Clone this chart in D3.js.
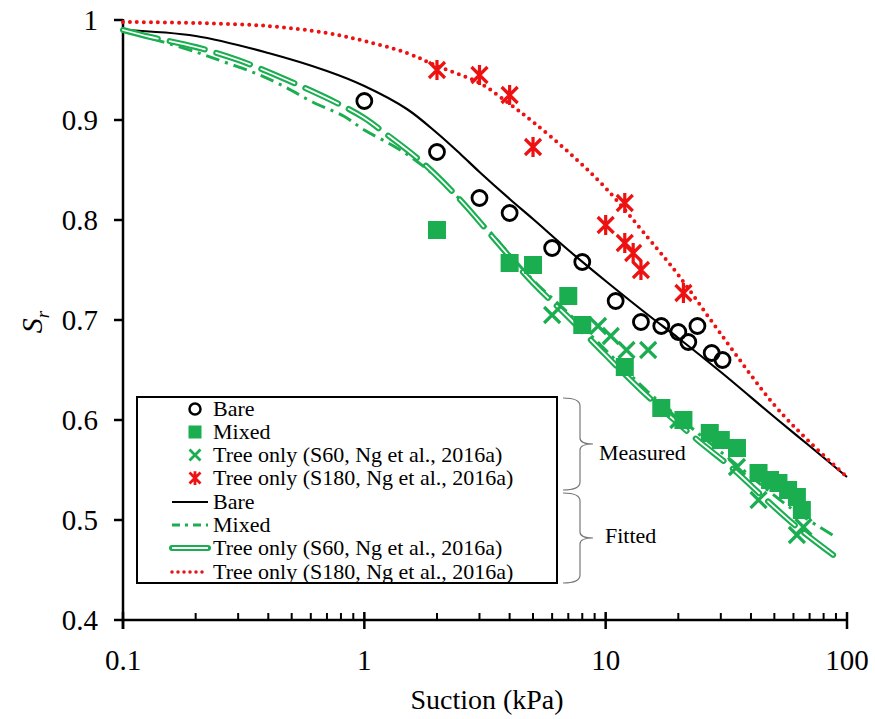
<!DOCTYPE html>
<html><head><meta charset="utf-8">
<script src="https://cdn.jsdelivr.net/npm/d3@7"></script>
<style>body{margin:0;background:#fff}svg{display:block}</style>
</head><body><svg id="c" width="875" height="719" font-family="'Liberation Serif', 'Times New Roman', 'DejaVu Serif', serif"></svg>
<script>
// ---- data ----
const bareX = [1,2,3,4,6,8,11,14,17,20,22,24,27.5,30.5];
const bareY = [0.919,0.868,0.822,0.807,0.772,0.758,0.719,0.698,0.694,0.688,0.678,0.694,0.667,0.660];
const mixedX = [2,4,5,7,8,12,17,21,27,30,35,43,48,52,57,62,65];
const mixedY = [0.79,0.757,0.755,0.724,0.695,0.653,0.612,0.6,0.587,0.58,0.572,0.547,0.54,0.537,0.53,0.523,0.51];
const s60X = [6,9.3,10.5,12.2,15,20,35,43,62,66];
const s60Y = [0.705,0.694,0.684,0.67,0.67,0.6,0.553,0.52,0.485,0.493];
const s180X = [2,3,4,5,10,12,12,13,14,21];
const s180Y = [0.95,0.945,0.925,0.873,0.795,0.817,0.777,0.767,0.75,0.727];

const fitBareX = [0.1,0.2,0.4,0.7,1,1.5,2,2.5,3,4,5,7,10,15,20,30,50,70,100];
const fitBareY = [0.99,0.984,0.967,0.949,0.934,0.911,0.887,0.866,0.848,0.821,0.801,0.770,0.739,0.705,0.682,0.648,0.603,0.574,0.543];
const fitMixedX = [0.1,0.2,0.27,0.36,0.47,0.61,0.82,1,1.3,1.6,2.1,3,5,7,10,15,20,33,60,90];
const fitMixedY = [0.99,0.968,0.957,0.946,0.933,0.918,0.904,0.890,0.875,0.861,0.838,0.8,0.74,0.707,0.67,0.628,0.603,0.56,0.51,0.483];
const fitS60X = [0.1,0.13,0.2,0.3,0.5,0.8,1,1.2,1.75,2.5,3.4,5,7,10,14,24,33,45,62,90];
const fitS60Y = [0.99,0.983,0.973,0.96,0.938,0.915,0.902,0.888,0.857,0.82,0.783,0.737,0.703,0.665,0.63,0.58,0.553,0.523,0.493,0.463];
const fitS180X = [0.1,0.2,0.4,0.7,1,1.5,2,3,4,5,7,10,15,20,30,50,70,100];
const fitS180Y = [0.998,0.997,0.994,0.987,0.979,0.967,0.954,0.937,0.916,0.898,0.868,0.832,0.782,0.745,0.686,0.615,0.578,0.543];

const xMajor = [0.1,1,10,100];
const xMajorLabels = ["0.1","1","10","100"];
const yTicks = [0.4,0.5,0.6,0.7,0.8,0.9,1];
const yTickLabels = ["0.4","0.5","0.6","0.7","0.8","0.9","1"];
const legendLabels = ["Bare","Mixed","Tree only (S60, Ng et al., 2016a)","Tree only (S180, Ng et al., 2016a)"];

// ---- drawing ----
const GREEN = "#1aae50", RED = "#ee1111";
const svg = d3.select("#c");
const x = d3.scaleLog().domain([0.1,100]).range([123,847]);
const y = d3.scaleLinear().domain([0.4,1]).range([620,20]);
const zip = (a,b)=>a.map((v,i)=>[v,b[i]]);

// axes
const ax = svg.append("g");
ax.append("line").attr("x1",x(0.1)).attr("x2",x(100)+1).attr("y1",y(0.4)).attr("y2",y(0.4)).attr("stroke","#000").attr("stroke-width",2.5);
ax.append("line").attr("x1",x(0.1)).attr("x2",x(0.1)).attr("y1",y(1)-1).attr("y2",y(0.4)+9).attr("stroke","#000").attr("stroke-width",2.5);
const minor = [];
[0.1,1,10].forEach(d=>{for(let k=2;k<=9;k++) minor.push(d*k);});
ax.selectAll(".mn").data(minor).join("line").attr("x1",d=>x(d)).attr("x2",d=>x(d))
  .attr("y1",y(0.4)-7).attr("y2",y(0.4)).attr("stroke","#000").attr("stroke-width",2);
ax.selectAll(".mj").data(xMajor).join("line").attr("x1",d=>x(d)).attr("x2",d=>x(d))
  .attr("y1",y(0.4)-8).attr("y2",y(0.4)+9).attr("stroke","#000").attr("stroke-width",2.5);
ax.selectAll(".xl").data(xMajor).join("text").attr("x",d=>x(d)).attr("y",670)
  .attr("text-anchor","middle").attr("font-size",29).text((d,i)=>xMajorLabels[i]);
ax.selectAll(".yt").data(yTicks).join("line").attr("x1",x(0.1)-9).attr("x2",x(0.1))
  .attr("y1",d=>y(d)).attr("y2",d=>y(d)).attr("stroke","#000").attr("stroke-width",2.5);
ax.selectAll(".yl").data(yTicks).join("text").attr("x",98).attr("y",d=>y(d)+10)
  .attr("text-anchor","end").attr("font-size",29).text((d,i)=>yTickLabels[i]);
ax.append("text").attr("x",487).attr("y",709).attr("text-anchor","middle").attr("font-size",28).text("Suction (kPa)");
const yl = ax.append("text").attr("transform","translate(42,322) rotate(-90)").attr("text-anchor","middle")
  .attr("font-size",30).attr("font-style","italic");
yl.append("tspan").text("S");
yl.append("tspan").attr("font-size",19).attr("dy",7).text("r");

// fitted lines
const line = d3.line().x(d=>x(d[0])).y(d=>y(d[1])).curve(d3.curveCatmullRom.alpha(0.5));
const L = svg.append("g").attr("fill","none");
L.append("path").attr("d",line(zip(fitBareX,fitBareY))).attr("stroke","#000").attr("stroke-width",2.2);
L.append("path").attr("d",line(zip(fitMixedX,fitMixedY))).attr("stroke",GREEN).attr("stroke-width",3)
  .attr("stroke-dasharray","14 6 3 6");
L.append("path").attr("d",line(zip(fitS60X,fitS60Y))).attr("stroke",GREEN).attr("stroke-width",6)
  .attr("stroke-dasharray","36 12").attr("stroke-linecap","round");
L.append("path").attr("d",line(zip(fitS60X,fitS60Y))).attr("stroke","#fff").attr("stroke-width",1.8)
  .attr("stroke-dasharray","36 12").attr("stroke-linecap","round");
L.append("path").attr("d",line(zip(fitS180X,fitS180Y))).attr("stroke",RED).attr("stroke-width",4)
  .attr("stroke-dasharray","0 7").attr("stroke-linecap","round");

// markers
function xMark(g, cx, cy, s, col, w, star){
  g.append("path").attr("d",`M${cx-s},${cy-s}L${cx+s},${cy+s}M${cx-s},${cy+s}L${cx+s},${cy-s}`+(star?`M${cx},${cy-s*1.25}L${cx},${cy+s*1.25}`:""))
   .attr("stroke",col).attr("stroke-width",w).attr("fill","none");
}
const M = svg.append("g");
M.selectAll(".sq").data(zip(mixedX,mixedY)).join("rect").attr("x",d=>x(d[0])-9).attr("y",d=>y(d[1])-9)
  .attr("width",18).attr("height",18).attr("fill",GREEN);
zip(s60X,s60Y).forEach(d=>xMark(M,x(d[0]),y(d[1]),8,GREEN,3.2,false));
zip(s180X,s180Y).forEach(d=>xMark(M,x(d[0]),y(d[1]),8,RED,3.2,true));
M.selectAll(".ci").data(zip(bareX,bareY)).join("circle").attr("cx",d=>x(d[0])).attr("cy",d=>y(d[1]))
  .attr("r",7.5).attr("fill","none").attr("stroke","#000").attr("stroke-width",2.8);

// legend
const lg = svg.append("g");
lg.append("rect").attr("x",137).attr("y",397).attr("width",420).attr("height",186).attr("fill","#fff")
  .attr("stroke","#000").attr("stroke-width",2);
const rows = [409,432,455,478,502,525,548,572];
const sx = 195;
lg.append("circle").attr("cx",sx).attr("cy",rows[0]).attr("r",5.5).attr("fill","none").attr("stroke","#000").attr("stroke-width",2.5);
lg.append("rect").attr("x",sx-6.5).attr("y",rows[1]-6.5).attr("width",13).attr("height",13).attr("fill",GREEN);
xMark(lg,sx,rows[2],5.5,GREEN,2.8,false);
xMark(lg,sx,rows[3],5.5,RED,2.8,true);
const lx1=172, lx2=208;
lg.append("line").attr("x1",lx1).attr("x2",lx2).attr("y1",rows[4]).attr("y2",rows[4]).attr("stroke","#000").attr("stroke-width",2.2);
lg.append("line").attr("x1",lx1).attr("x2",lx2).attr("y1",rows[5]).attr("y2",rows[5]).attr("stroke",GREEN).attr("stroke-width",3).attr("stroke-dasharray","8 5 3 5");
lg.append("line").attr("x1",lx1).attr("x2",lx2).attr("y1",rows[6]).attr("y2",rows[6]).attr("stroke",GREEN).attr("stroke-width",6).attr("stroke-linecap","round");
lg.append("line").attr("x1",lx1).attr("x2",lx2).attr("y1",rows[6]).attr("y2",rows[6]).attr("stroke","#fff").attr("stroke-width",1.8);
lg.append("line").attr("x1",lx1).attr("x2",lx2).attr("y1",rows[7]).attr("y2",rows[7]).attr("stroke",RED).attr("stroke-width",3.5).attr("stroke-dasharray","0 6").attr("stroke-linecap","round");
const labs = legendLabels.concat(legendLabels);
lg.selectAll(".lt").data(labs).join("text").attr("x",213).attr("y",(d,i)=>rows[i]+7).attr("font-size",22).text(d=>d);

// braces
function brace(top, bot){
  const mid=(top+bot)/2, xl=563, xv=580, xt=593;
  return `M${xl},${top}Q${xv},${top} ${xv},${top+8}L${xv},${mid-6}Q${xv},${mid} ${xt},${mid}`+
         `M${xt},${mid}Q${xv},${mid} ${xv},${mid+6}L${xv},${bot-8}Q${xv},${bot} ${xl},${bot}`;
}
lg.append("path").attr("d",brace(398,490)).attr("fill","none").attr("stroke","#777").attr("stroke-width",1.2);
lg.append("path").attr("d",brace(493,583)).attr("fill","none").attr("stroke","#777").attr("stroke-width",1.2);
lg.append("text").attr("x",599).attr("y",460).attr("font-size",22).text("Measured");
lg.append("text").attr("x",605).attr("y",543).attr("font-size",22).text("Fitted");
</script></body></html>
